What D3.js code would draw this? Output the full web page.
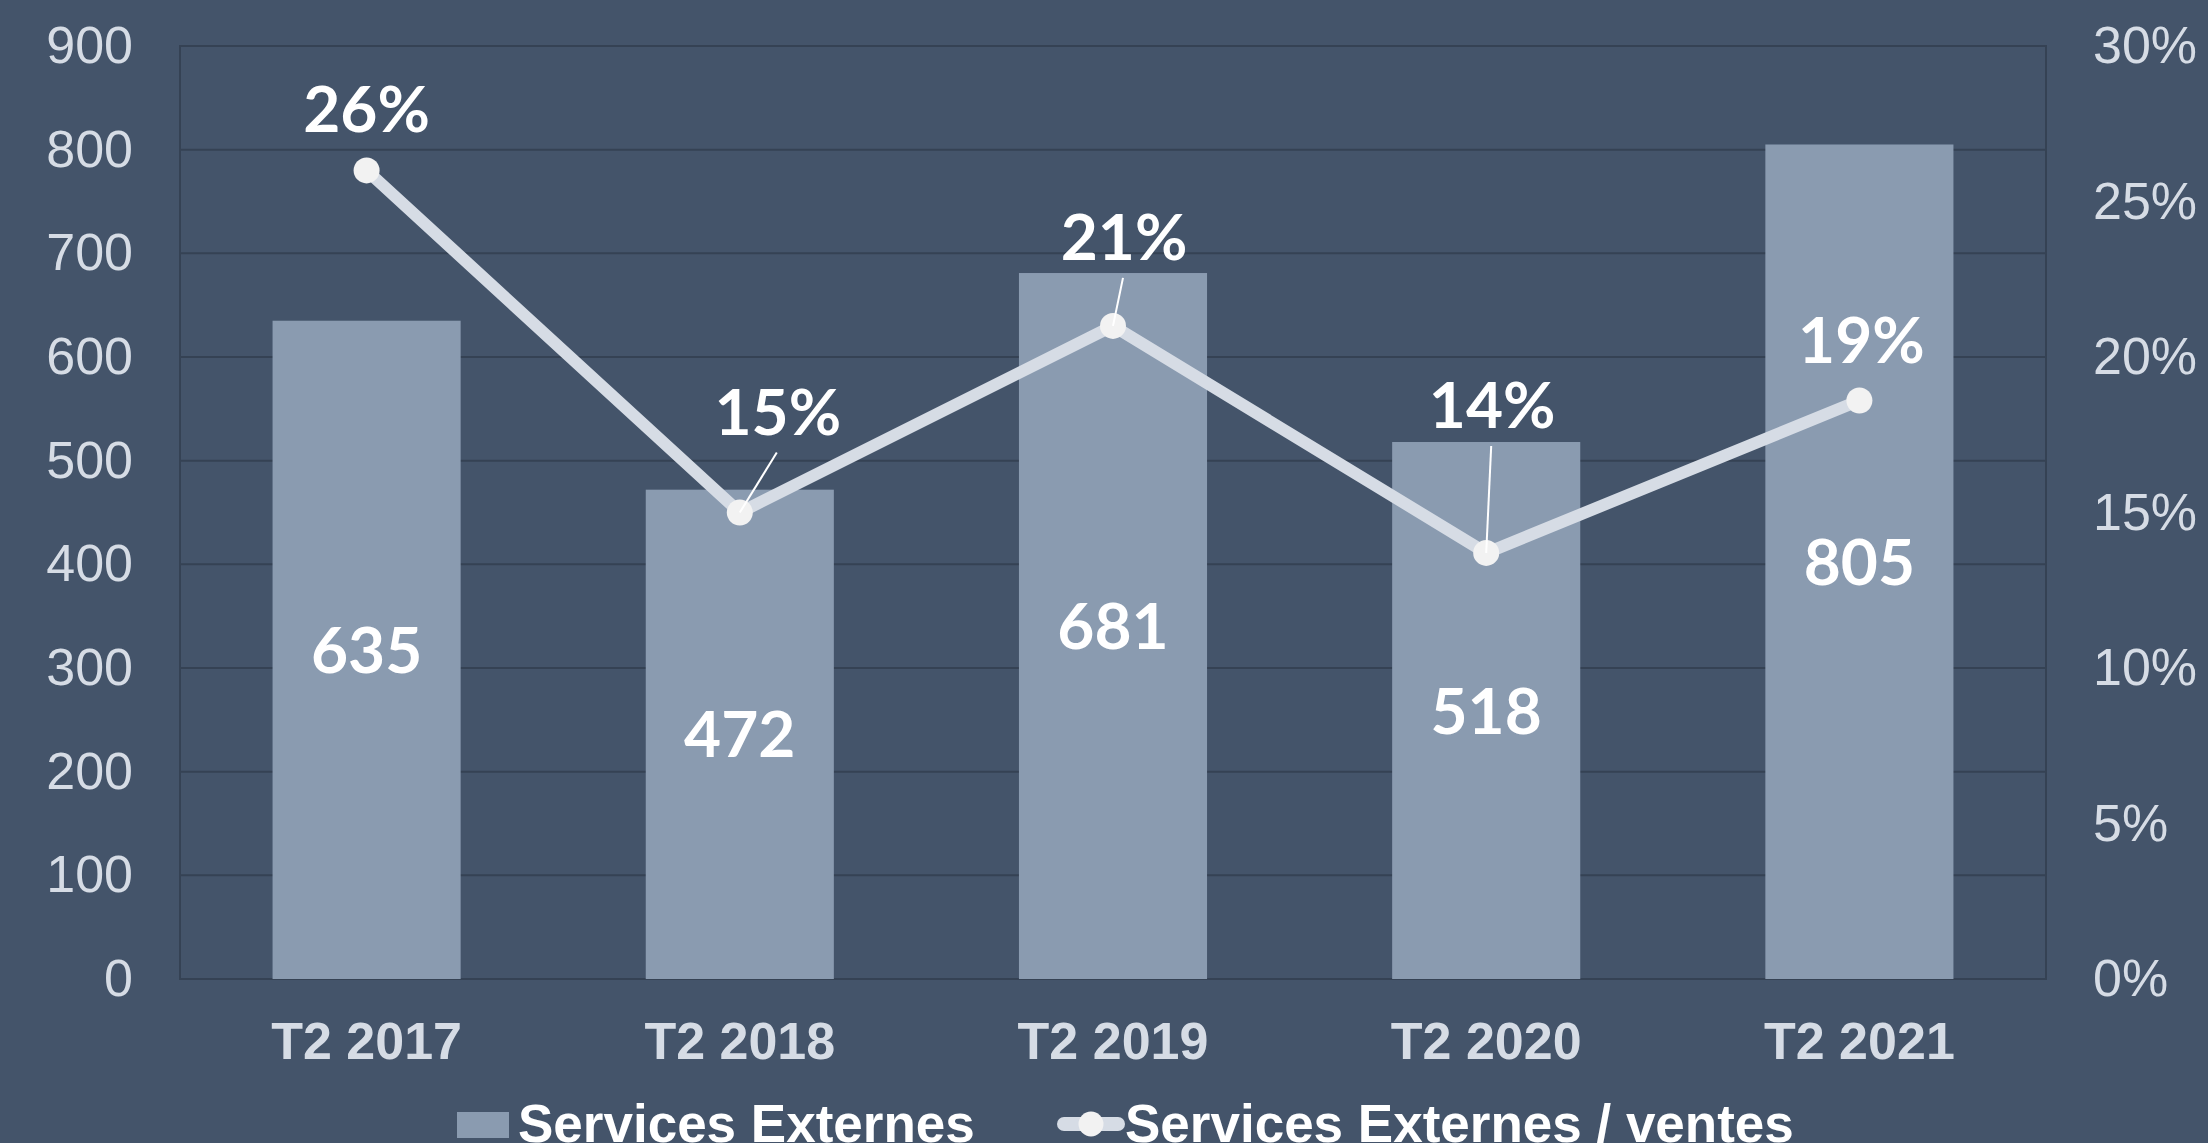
<html>
<script src='https://d3js.org/d3.v7.min.js'></script>

<style>
body { margin: 0; background: #44546a; }
.axis text { font-family: "Liberation Sans", Arial, sans-serif; fill: #d6dce5; }
</style>

<body onload='init()'>
<svg width="2208" height="1143" class="chart"></svg>

<script>
// data
var quarters = ["T2 2017", "T2 2018", "T2 2019", "T2 2020", "T2 2021"];
var services = [635, 472, 681, 518, 805];
var ratio = [0.26, 0.15, 0.21, 0.137, 0.186];
var leftTicks = [0, 100, 200, 300, 400, 500, 600, 700, 800, 900];
var rightTicks = [0, 0.05, 0.10, 0.15, 0.20, 0.25, 0.30];
var seriesNames = ["Services Externes", "Services Externes / ventes"];

// label nudges for the % labels (dx, dy from the point), leader when moved
var pctNudge = [[0, -38], [38, -78], [11, -66], [6, -125], [2, -38]];

function init() {
    var svg = d3.select(".chart");
    var left = 180, right = 2046, top = 46, bottom = 979;

    var x = d3.scaleBand()
        .domain(quarters)
        .range([left, right]);

    var y = d3.scaleLinear()
        .domain([0, 900])
        .range([bottom, top]);

    var y2 = d3.scaleLinear()
        .domain([0, 0.30])
        .range([bottom, top]);

    // gridlines
    svg.append("g")
      .selectAll("line")
      .data(leftTicks)
      .enter()
      .append("line")
      .attr("x1", left).attr("x2", right)
      .attr("y1", function(d) { return y(d); })
      .attr("y2", function(d) { return y(d); })
      .attr("stroke", "#354254")
      .attr("stroke-width", 2);

    svg.append("rect")
      .attr("x", left).attr("y", top)
      .attr("width", right - left).attr("height", bottom - top)
      .attr("fill", "none")
      .attr("stroke", "#354254")
      .attr("stroke-width", 2);

    // bars
    var bw = x.bandwidth() * 0.504;
    svg.append("g")
      .selectAll("rect")
      .data(services)
      .enter()
      .append("rect")
      .attr("x", function(d, i) { return x(quarters[i]) + (x.bandwidth() - bw) / 2; })
      .attr("y", function(d) { return y(d); })
      .attr("width", bw)
      .attr("height", function(d) { return y(0) - y(d); })
      .attr("fill", "#8a9bb0");

    svg.append("g")
      .selectAll("text")
      .data(services)
      .enter()
      .append("text")
      .attr("x", function(d, i) { return x(quarters[i]) + x.bandwidth() / 2; })
      .attr("y", function(d) { return (y(d) + y(0)) / 2; })
      .attr("dy", "0.36em")
      .attr("text-anchor", "middle")
      .style("font-family", "Lato, sans-serif")
      .style("font-weight", "bold")
      .style("font-size", "64px")
      .attr("fill", "#ffffff")
      .text(function(d) { return d; });

    // line
    var cx = function(d, i) { return x(quarters[i]) + x.bandwidth() / 2; };
    var line = d3.line()
        .x(cx)
        .y(function(d) { return y2(d); });

    svg.append("path")
      .datum(ratio)
      .attr("d", line)
      .attr("fill", "none")
      .attr("stroke", "#d6dce5")
      .attr("stroke-width", 12);

    svg.append("g")
      .selectAll("circle")
      .data(ratio)
      .enter()
      .append("circle")
      .attr("cx", cx)
      .attr("cy", function(d) { return y2(d); })
      .attr("r", 13)
      .attr("fill", "#f2f2f2");

    // leader lines for the labels that were pushed away
    var moved = d3.range(ratio.length).filter(function(i) { return pctNudge[i][1] < -50; });
    svg.append("g")
      .selectAll("line")
      .data(moved)
      .enter()
      .append("line")
      .attr("x1", function(i) { return cx(ratio[i], i) + pctNudge[i][0] - 1; })
      .attr("y1", function(i) { return y2(ratio[i]) + pctNudge[i][1] + 18; })
      .attr("x2", function(i) { return cx(ratio[i], i); })
      .attr("y2", function(i) { return y2(ratio[i]); })
      .attr("stroke", "#ffffff")
      .attr("stroke-width", 2);

    svg.append("g")
      .selectAll("text")
      .data(ratio)
      .enter()
      .append("text")
      .attr("x", function(d, i) { return cx(d, i) + pctNudge[i][0]; })
      .attr("y", function(d, i) { return y2(d) + pctNudge[i][1]; })
      .attr("text-anchor", "middle")
      .style("font-family", "Lato, sans-serif")
      .style("font-weight", "bold")
      .style("font-size", "64px")
      .attr("fill", "#ffffff")
      .text(function(d) { return Math.round(d * 100) + "%"; });

    // axes
    var la = svg.append("g")
      .attr("class", "axis")
      .attr("transform", "translate(" + (left - 47) + ",0)")
      .call(d3.axisLeft(y).tickValues(leftTicks).tickSize(0).tickPadding(0));
    la.select(".domain").remove();
    la.selectAll("text").style("font-size", "52px");

    var ra = svg.append("g")
      .attr("class", "axis")
      .attr("transform", "translate(" + (right + 47) + ",0)")
      .call(d3.axisRight(y2).tickValues(rightTicks).tickSize(0).tickPadding(0)
            .tickFormat(d3.format(".0%")));
    ra.select(".domain").remove();
    ra.selectAll("text").style("font-size", "52px");

    var xa = svg.append("g")
      .attr("class", "axis")
      .attr("transform", "translate(0," + bottom + ")")
      .call(d3.axisBottom(x).tickSize(0).tickPadding(0));
    xa.select(".domain").remove();
    xa.selectAll("text")
      .attr("dy", null)
      .attr("y", 80)
      .style("font-size", "52px")
      .style("font-weight", "bold");

    // legend
    var lg = svg.append("g").attr("class", "legend");
    lg.append("rect")
      .attr("x", 457).attr("y", 1112)
      .attr("width", 52).attr("height", 26)
      .attr("fill", "#8a9bb0");
    lg.append("text")
      .attr("x", 518).attr("y", 1142)
      .style("font-family", "'Liberation Sans', Arial, sans-serif")
      .style("font-weight", "bold")
      .style("font-size", "53px")
      .attr("fill", "#ffffff")
      .text(seriesNames[0]);
    lg.append("line")
      .attr("x1", 1064).attr("x2", 1118)
      .attr("y1", 1124).attr("y2", 1124)
      .attr("stroke", "#d6dce5")
      .attr("stroke-width", 14)
      .attr("stroke-linecap", "round");
    lg.append("circle")
      .attr("cx", 1091).attr("cy", 1124).attr("r", 12.5)
      .attr("fill", "#f2f2f2");
    lg.append("text")
      .attr("x", 1125).attr("y", 1142)
      .style("font-family", "'Liberation Sans', Arial, sans-serif")
      .style("font-weight", "bold")
      .style("font-size", "53px")
      .attr("fill", "#ffffff")
      .text(seriesNames[1]);
}
</script>
</body>

</html>
